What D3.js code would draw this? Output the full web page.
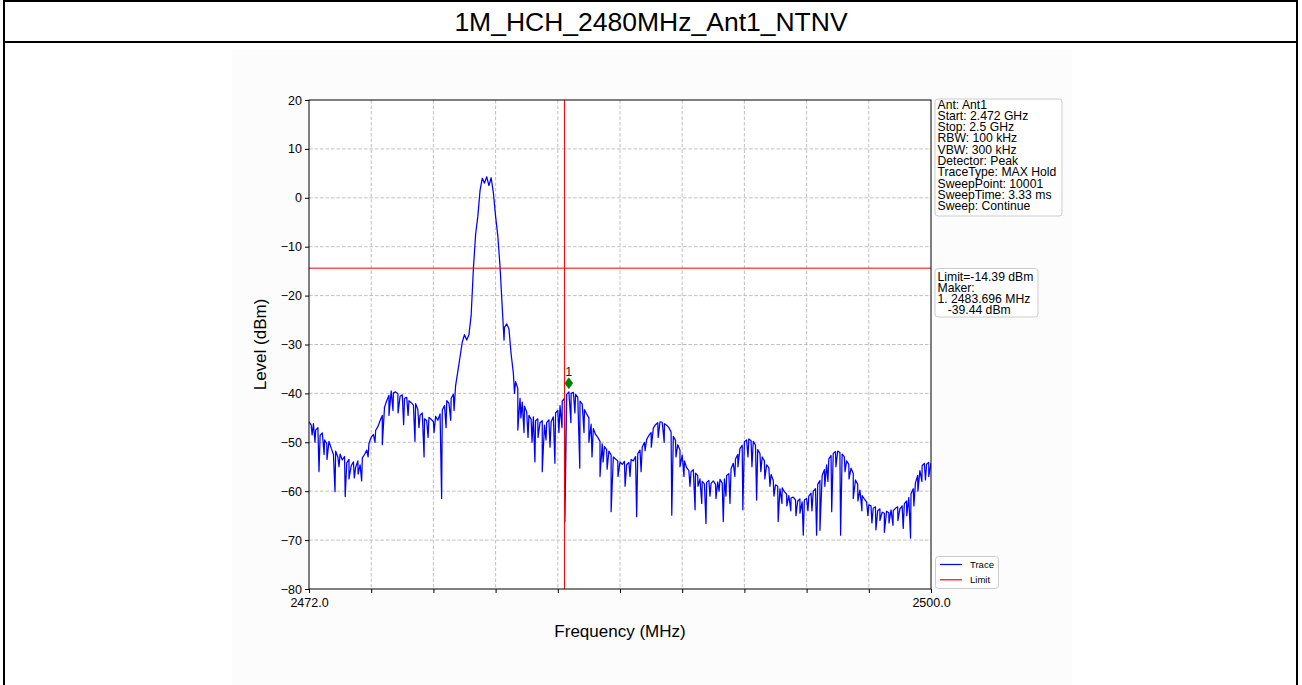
<!DOCTYPE html>
<html><head><meta charset="utf-8">
<script src="https://cdn.jsdelivr.net/npm/d3@7"></script>
<style>
body{margin:0;background:#fff;}
svg{display:block;font-family:"Liberation Sans",Arial,sans-serif;}
</style>
</head><body>
<svg id="c" width="1302" height="685"></svg>
<script>
// ---------------- data ----------------
const title = "1M_HCH_2480MHz_Ant1_NTNV";
const startMHz = 2472.0, stopMHz = 2500.0, stepMHz = 0.1;
// trace level (dBm) every 0.1 MHz from 2472.0 to 2500.0
const traceLevels = [
 -45.8,-46.5,-46.2,-47.5,-47.0,-48.6,-48.1,-49.5,-50.3,-49.8,
 -51.2,-52.5,-51.8,-53.0,-52.4,-53.6,-52.9,-54.2,-53.5,-54.8,
 -54.0,-55.1,-53.8,-54.6,-53.2,-52.5,-51.6,-50.2,-49.0,-48.4,
 -47.6,-46.8,-45.6,-44.5,-42.8,-41.5,-40.4,-39.5,-39.9,-39.7,
 -40.1,-40.6,-40.3,-41.0,-40.8,-41.5,-41.9,-42.4,-42.1,-43.3,
 -44.5,-44.0,-45.2,-45.6,-44.9,-45.3,-45.8,-44.7,-45.5,-44.2,
 -43.4,-42.5,-41.5,-42.0,-41.0,-40.2,-38.4,-35.5,-32.5,-29.5,
 -28.0,-29.1,-28.0,-24.0,-14.5,-7.5,-3.8,1.5,4.0,3.0,
 4.3,2.5,4.1,1.0,-3.8,-7.8,-14.1,-22.5,-26.5,-25.8,
 -26.8,-32.0,-35.9,-37.6,-39.0,-41.0,-41.8,-42.6,-43.8,-44.5,
 -45.3,-44.8,-45.6,-45.2,-46.0,-45.6,-46.5,-46.0,-45.4,-45.8,
 -44.8,-44.0,-43.5,-42.5,-41.6,-41.0,-40.2,-39.7,-40.0,-39.8,
 -40.2,-40.8,-41.6,-42.2,-43.3,-44.2,-45.0,-46.3,-47.2,-48.4,
 -49.0,-49.8,-50.3,-50.9,-51.5,-51.8,-52.6,-53.0,-53.4,-53.8,
 -54.0,-54.5,-53.9,-54.6,-54.1,-53.5,-53.8,-52.9,-52.3,-51.6,
 -51.0,-50.0,-49.4,-48.6,-48.0,-47.1,-46.4,-46.0,-45.8,-45.9,
 -46.2,-46.5,-47.0,-47.9,-48.8,-49.6,-50.5,-51.6,-52.6,-53.8,
 -55.2,-55.8,-56.0,-55.6,-56.3,-56.8,-57.5,-58.0,-58.5,-58.2,
 -57.8,-58.4,-57.9,-58.6,-58.1,-57.6,-58.3,-57.5,-56.8,-56.4,
 -55.4,-54.3,-53.4,-52.5,-51.3,-50.6,-49.9,-49.5,-49.3,-49.7,
 -49.8,-50.6,-51.5,-52.3,-53.0,-53.8,-54.6,-55.2,-56.6,-57.8,
 -58.7,-59.0,-59.5,-59.3,-60.1,-60.6,-60.9,-61.4,-61.2,-61.8,
 -62.0,-61.6,-62.2,-61.8,-61.5,-61.0,-60.4,-60.0,-59.5,-58.6,
 -57.8,-56.8,-55.6,-54.6,-53.4,-52.7,-52.3,-51.9,-51.8,-52.1,
 -52.4,-53.0,-53.8,-54.5,-55.3,-56.4,-57.7,-58.6,-59.8,-60.9,
 -61.6,-62.2,-62.8,-63.0,-63.5,-63.2,-64.0,-63.6,-64.3,-64.5,
 -64.1,-64.4,-63.8,-64.0,-63.5,-63.2,-63.6,-63.0,-62.6,-62.0,
 -61.3,-60.5,-59.5,-58.3,-56.8,-55.8,-54.8,-54.3,-54.5,-54.1,
 -54.3
];
// downward noise spikes [MHz, dBm]
const spikes = [
 [2472.14,-48.5],[2472.27,-50],[2472.45,-56],[2472.68,-52.5],[2472.81,-53.5],
 [2473.17,-60.1],[2473.35,-55],[2473.63,-61.1],[2473.80,-57.5],[2474.04,-57.3],
 [2474.21,-56.5],[2474.37,-57.9],[2474.66,-53],[2474.97,-50],[2475.30,-50.5],
 [2475.60,-44.5],[2475.78,-43.5],[2476.01,-44],[2476.26,-46.4],[2476.46,-44.5],
 [2476.77,-49.8],[2476.95,-47],[2477.18,-53],[2477.36,-49],[2477.63,-48],
 [2477.97,-61.5],[2478.17,-47],[2478.38,-45.5],[2478.53,-43.5],
 [2480.78,-29.1],[2481.25,-40],[2481.40,-47.5],[2481.54,-45],[2481.68,-48],
 [2481.86,-49],[2482.04,-50],[2482.17,-54],[2482.31,-49],[2482.50,-56],
 [2482.67,-49.5],[2482.85,-51],[2483.07,-54.3],[2483.25,-48],[2483.39,-47],
 [2483.52,-66.2],[2483.79,-46],[2483.97,-44],[2484.19,-55.3],[2484.38,-48],
 [2484.60,-50],[2484.74,-53],[2485.10,-57],[2485.24,-54],[2485.42,-55.5],
 [2485.60,-64.2],[2485.91,-57],[2486.23,-59],[2486.45,-57],[2486.75,-65.2],
 [2486.95,-56],[2487.13,-51.7],[2487.41,-51],[2487.72,-49],[2487.99,-50],
 [2488.33,-64.9],[2488.52,-53],[2488.70,-55],[2488.88,-57],[2489.15,-59],
 [2489.38,-63.8],[2489.51,-59],[2489.68,-62.5],[2489.87,-66.6],[2490.05,-61],
 [2490.32,-61.5],[2490.46,-60],[2490.65,-66.2],[2490.77,-61],[2490.95,-62.5],
 [2491.17,-57],[2491.31,-55],[2491.53,-63.8],[2491.76,-53],[2491.94,-55],
 [2492.15,-61.8],[2492.34,-56],[2492.52,-57.5],[2492.75,-59],[2492.93,-61],
 [2493.12,-66.2],[2493.29,-62.5],[2493.51,-63],[2493.69,-64],[2493.92,-65],
 [2494.10,-64.5],[2494.25,-69],[2494.46,-64],[2494.64,-64],[2494.85,-69],
 [2495.00,-68],[2495.22,-59],[2495.36,-58],[2495.53,-64.2],[2495.72,-55],
 [2495.93,-69],[2496.13,-56],[2496.31,-57.5],[2496.50,-61.5],[2496.71,-62],
 [2496.89,-64],[2497.16,-65],[2497.34,-66.5],[2497.52,-67.9],[2497.70,-66],
 [2497.90,-68.4],[2498.11,-66.5],[2498.29,-67],[2498.51,-66],[2498.75,-67.6],
 [2498.91,-65],[2499.08,-69.6],[2499.23,-63],[2499.41,-60],[2499.59,-58],
 [2499.75,-57.7],[2499.90,-57]
];
const limitLevel = -14.39;
const bandEdgeMHz = 2483.5;
const markerFreq = 2483.696, markerLevel = -39.44, markerName = "1";
const yTicks = [20,10,0,-10,-20,-30,-40,-50,-60,-70,-80];
const xTicks = [2472.0,2474.8,2477.6,2480.4,2483.2,2486.0,2488.8,2491.6,2494.4,2497.2,2500.0];
const xTickLabels = {"2472": "2472.0", "2500": "2500.0"};
const xTitle = "Frequency (MHz)", yTitle = "Level (dBm)";
const infoLines = ["Ant: Ant1","Start: 2.472 GHz","Stop: 2.5 GHz","RBW: 100 kHz","VBW: 300 kHz",
  "Detector: Peak","TraceType: MAX Hold","SweepPoint: 10001","SweepTime: 3.33 ms","Sweep: Continue"];
const limitLines = ["Limit=-14.39 dBm","Maker:","1. 2483.696 MHz","   -39.44 dBm"];
const legendItems = [{name:"Trace",color:"#0000ff"},{name:"Limit",color:"#ff0000"}];

// ---------------- drawing ----------------
const svg = d3.select("#c");
const W = 1302, H = 685;
// page frame
svg.append("rect").attr("x",4).attr("y",1).attr("width",1293).attr("height",H+10)
  .attr("fill","#fff").attr("stroke","#000").attr("stroke-width",2);
svg.append("line").attr("x1",4).attr("x2",1297).attr("y1",42).attr("y2",42)
  .attr("stroke","#000").attr("stroke-width",2);
svg.append("text").attr("x",651).attr("y",31).attr("text-anchor","middle")
  .attr("font-size",26.5).attr("fill","#000").text(title);
// figure background
svg.append("rect").attr("x",232).attr("y",50).attr("width",840).attr("height",640).attr("fill","#fcfcfc");

const m = {l:309, r:931, t:100, b:589};
const x = d3.scaleLinear().domain([startMHz, stopMHz]).range([m.l, m.r]);
const y = d3.scaleLinear().domain([-80, 20]).range([m.b, m.t]);

svg.append("rect").attr("x",m.l).attr("y",m.t).attr("width",m.r-m.l).attr("height",m.b-m.t).attr("fill","#fff");

// grid
const grid = svg.append("g").attr("stroke","#b0b0b0").attr("stroke-width",0.8).attr("stroke-dasharray","3.5,2");
grid.selectAll("line.gx").data(xTicks.slice(1,-1)).join("line")
  .attr("x1",d=>x(d)).attr("x2",d=>x(d)).attr("y1",m.t).attr("y2",m.b);
grid.selectAll("line.gy").data(yTicks.slice(1,-1)).join("line").attr("class","gy")
  .attr("x1",m.l).attr("x2",m.r).attr("y1",d=>y(d)).attr("y2",d=>y(d));

// trace
const pts = traceLevels.map((v,i)=>({f: startMHz + i*stepMHz, v}))
  .concat(spikes.map(s=>({f:s[0], v:s[1]})))
  .sort((a,b)=>a.f-b.f);
svg.append("clipPath").attr("id","clip").append("rect")
  .attr("x",m.l).attr("y",m.t).attr("width",m.r-m.l).attr("height",m.b-m.t);
svg.append("path").datum(pts).attr("clip-path","url(#clip)")
  .attr("fill","none").attr("stroke","#0000ff").attr("stroke-width",1.25)
  .attr("stroke-linejoin","round")
  .attr("d", d3.line().x(d=>x(d.f)).y(d=>y(d.v)));

// limit lines
svg.append("line").attr("x1",m.l).attr("x2",m.r).attr("y1",y(limitLevel)).attr("y2",y(limitLevel))
  .attr("stroke","#ff0000").attr("stroke-width",1);
svg.append("line").attr("x1",x(bandEdgeMHz)).attr("x2",x(bandEdgeMHz)).attr("y1",m.t).attr("y2",m.b)
  .attr("stroke","#ff0000").attr("stroke-width",1);

// marker
const mx = x(markerFreq), my = y(markerLevel) - 7.5;
svg.append("path").attr("transform",`translate(${mx},${my})`)
  .attr("d","M0,-5.5L4,0L0,5.5L-4,0Z").attr("fill","#008000").attr("stroke","#006400").attr("stroke-width",0.5);
svg.append("text").attr("x",mx).attr("y",my-7).attr("text-anchor","middle")
  .attr("font-size",12.5).attr("fill","#222").text(markerName);

// axes
const xAxis = d3.axisBottom(x).tickValues(xTicks).tickSize(4).tickPadding(5)
  .tickFormat(d=>xTickLabels[String(d)] || "");
const gx = svg.append("g").attr("transform",`translate(0,${m.b})`).call(xAxis);
const yAxis = d3.axisLeft(y).tickValues(yTicks).tickSize(4).tickPadding(3)
  .tickFormat(d=>d<0 ? "\u2212"+Math.abs(d) : String(d));
const gy = svg.append("g").attr("transform",`translate(${m.l},0)`).call(yAxis);
[gx,gy].forEach(g=>{
  g.select(".domain").remove();
  g.selectAll("text").attr("font-size",12.5).attr("fill","#000").attr("font-family","Liberation Sans, Arial, sans-serif");
  g.selectAll("line").attr("stroke","#000");
});
// spines
svg.append("rect").attr("x",m.l).attr("y",m.t).attr("width",m.r-m.l).attr("height",m.b-m.t)
  .attr("fill","none").attr("stroke","#000").attr("stroke-width",1);

svg.append("text").attr("x",(m.l+m.r)/2).attr("y",637).attr("text-anchor","middle")
  .attr("font-size",17).attr("fill","#000").text(xTitle);
svg.append("text").attr("transform",`translate(266,${(m.t+m.b)/2}) rotate(-90)`).attr("text-anchor","middle")
  .attr("font-size",17).attr("fill","#000").text(yTitle);

// info boxes (one text block each, lines as tspans)
function box(lines, x0, y0, w, h, firstBaseline){
  const g = svg.append("g");
  g.append("rect").attr("x",x0).attr("y",y0).attr("width",w).attr("height",h).attr("rx",3)
    .attr("fill","#fff").attr("stroke","#cccccc").attr("stroke-width",1);
  const t = g.append("text").attr("font-size",12.2).attr("fill","#000")
    .attr("xml:space","preserve").style("white-space","pre");
  t.selectAll("tspan").data(lines).join("tspan")
    .attr("x",x0+2.5).attr("y",(d,i)=>firstBaseline + i*11.3).text(d=>d);
}
box(infoLines, 935, 99, 127, 117, 108.5);
box(limitLines, 935, 268.5, 103, 48.5, 280.5);

// legend
const lg = svg.append("g");
lg.append("rect").attr("x",935.5).attr("y",556.5).attr("width",63).attr("height",32).attr("rx",3)
  .attr("fill","#fff").attr("stroke","#cccccc");
legendItems.forEach((d,i)=>{
  const yy = 564.5 + i*15.3;
  lg.append("line").attr("x1",940).attr("x2",962).attr("y1",yy).attr("y2",yy).attr("stroke",d.color).attr("stroke-width",1.2);
  lg.append("text").attr("x",970).attr("y",yy+3.5).attr("font-size",9.5).attr("fill","#000").text(d.name);
});
</script>
</body></html>
